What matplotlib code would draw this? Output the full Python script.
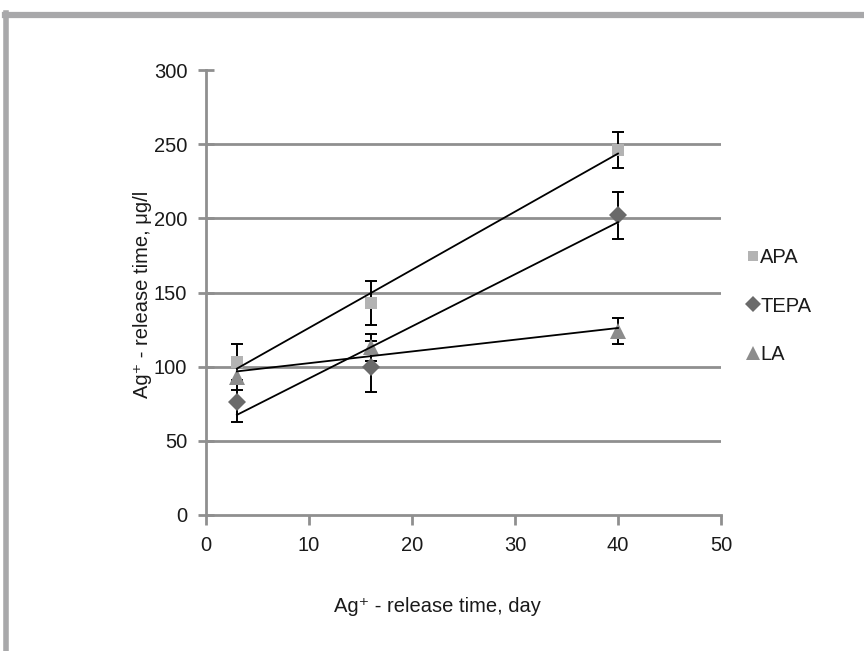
import matplotlib
matplotlib.use("Agg")
import matplotlib.pyplot as plt
import numpy as np
from matplotlib.lines import Line2D

plt.rcParams['font.family'] = ['Liberation Sans', 'DejaVu Sans']

# Data
days = [3, 16, 40]
series_names = ['APA', 'TEPA', 'LA']
apa = [103, 143, 246]
apa_err = [12, 15, 12]
tepa = [76, 100, 202]
tepa_err = [13, 17, 16]
la = [93, 113, 124]
la_err = [9, 9, 9]

x_ticks = [0, 10, 20, 30, 40, 50]
y_ticks = [0, 50, 100, 150, 200, 250, 300]

colors = {'APA': '#b3b3b3', 'TEPA': '#6a6a6a', 'LA': '#8c8c8c'}
markers = {'APA': 's', 'TEPA': 'D', 'LA': '^'}
msizes = {'APA': 8, 'TEPA': 9, 'LA': 11}
grid_color = '#8f8f8f'
fs = 14.5

fig = plt.figure(figsize=(8.64, 6.51), dpi=100)
ax = fig.add_axes([206 / 864, 1 - 515 / 651, (721 - 206) / 864, (515 - 70) / 651])

# horizontal gridlines
for y in y_ticks[1:-1]:
    ax.axhline(y, color=grid_color, lw=2, zorder=1)

data = {'APA': (apa, apa_err), 'TEPA': (tepa, tepa_err), 'LA': (la, la_err)}
xs = np.array(days)
for name in series_names:
    vals, errs = data[name]
    ax.errorbar(xs, vals, yerr=errs, fmt='none', ecolor='black', elinewidth=1.4,
                capsize=4, capthick=1.4, zorder=3)
    ax.plot(xs, vals, linestyle='none', marker=markers[name], color=colors[name],
            markersize=msizes[name], markeredgewidth=0, zorder=4)
    # linear trend line
    k, b = np.polyfit(xs, vals, 1)
    xl = np.array([xs.min(), xs.max()])
    ax.plot(xl, k * xl + b, color='black', lw=1.3, zorder=5)

ax.set_xlim(0, 50)
ax.set_ylim(0, 300)
ax.set_xticks(x_ticks)
ax.set_yticks(y_ticks)
ax.tick_params(axis='both', length=7, width=2, color=grid_color,
               labelsize=fs, labelcolor='#1a1a1a')
ax.tick_params(axis='x', direction='out', pad=8)
ax.tick_params(axis='y', direction='inout', length=11, pad=8)
for side in ['top', 'right']:
    ax.spines[side].set_visible(False)
for side in ['left', 'bottom']:
    ax.spines[side].set_color(grid_color)
    ax.spines[side].set_linewidth(2)

fig.text(143 / 864, 1 - 294 / 651, 'Ag⁺ - release time, μg/l', fontsize=fs,
         rotation=90, ha='center', va='center', color='#1a1a1a')
fig.text(437 / 864, 1 - 607 / 651, 'Ag⁺ - release time, day', fontsize=fs,
         ha='center', va='center', color='#1a1a1a')

# legend
handles = [Line2D([], [], linestyle='none', marker=markers[n], color=colors[n],
                  markersize=msizes[n] - 1, markeredgewidth=0) for n in series_names]
fig.legend(handles, series_names, loc='center left',
           bbox_to_anchor=(735 / 864, 1 - 306 / 651), frameon=False, fontsize=fs,
           handletextpad=-0.15, handlelength=1.0, labelspacing=1.45, borderaxespad=0,
           labelcolor='#1a1a1a')

# partial gray frame of the original figure
border = '#a8a8aa'
fig.add_artist(Line2D([5 / 864, 1.0], [1 - 15 / 651, 1 - 15 / 651], color=border, lw=4.5,
                      transform=fig.transFigure))
fig.add_artist(Line2D([5.5 / 864, 5.5 / 864], [0, 1 - 13 / 651], color=border, lw=4,
                      transform=fig.transFigure))

fig.savefig('out.png', dpi=100)
